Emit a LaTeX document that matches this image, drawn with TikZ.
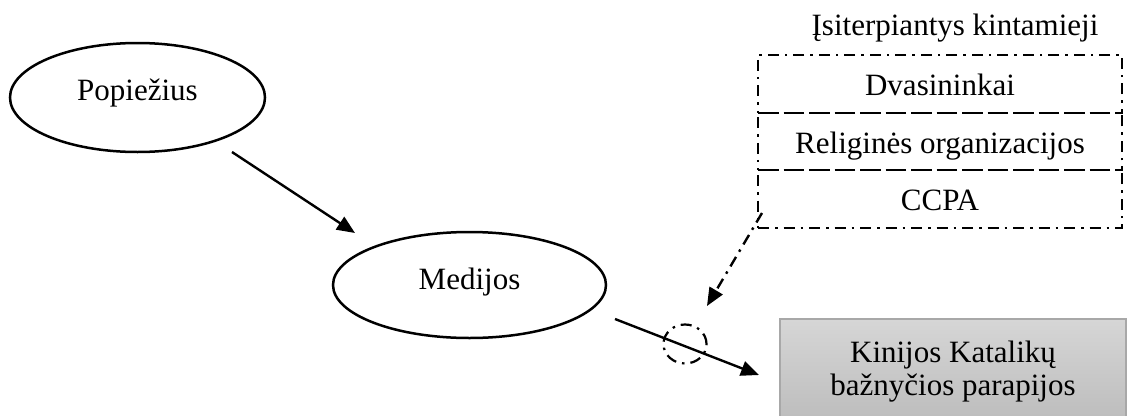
\documentclass[tikz,border=0pt]{standalone}
\usepackage{fontspec}
\setmainfont{Liberation Serif}
\usetikzlibrary{shapes.geometric,arrows.meta}
\begin{document}
\begin{tikzpicture}[x=1pt,y=-1pt,
  every node/.style={font=\fontsize{31}{33}\selectfont},
  dashdotline/.style={dash pattern=on 11pt off 6pt on 2.5pt off 6pt},
  oval/.style={ellipse,draw,line width=2.5pt,inner sep=0pt,text height=22pt},
  rowbox/.style={rectangle,draw,line width=2.2pt,dashdotline,minimum width=364pt,minimum height=57.67pt,inner sep=0pt,text height=23pt,text depth=0pt},
  arr/.style={line width=2.4pt,-{Triangle[length=18pt,width=15pt]}},
]
\useasboundingbox (0,0) rectangle (1127,415);

\node[oval,minimum width=255pt,minimum height=109pt,text depth=17pt] (pope) at (137.5,97.5) {Popiežius};
\node[oval,minimum width=273pt,minimum height=106pt,text depth=14pt] (media) at (469.5,285) {Medijos};

\node[anchor=base] (title) at (955,35) {Įsiterpiantys kintamieji};
\node[rowbox] (r1) at (940,83.8) {Dvasininkai};
\node[rowbox] (r2) at (940,141.5) {Religinės organizacijos};
\node[rowbox] (r3) at (940,199.2) {CCPA};

\node[draw={rgb,255:red,168;green,168;blue,168},line width=1.5pt,
  top color={rgb,255:red,214;green,214;blue,214},bottom color={rgb,255:red,188;green,188;blue,188},
  minimum width=346pt,minimum height=104.6pt,align=center,inner sep=0pt] (church) at (953,371.3)
  {Kinijos Katalikų\\bažnyčios parapijos};

\node[ellipse,draw,line width=2.2pt,dashdotline,minimum width=43pt,minimum height=39pt,inner sep=0pt] (mark) at (685,344) {};

\coordinate (a1) at (232,152);
\coordinate (a2) at (355,233);
\coordinate (b1) at (615,319);
\coordinate (b2) at (759,375);
\coordinate (c1) at (762,213);
\coordinate (c2) at (707,306);

\draw[arr] (a1) -- (a2);
\draw[arr] (b1) -- (b2);
\draw[arr,dashdotline] (c1) -- (c2);
\end{tikzpicture}
\end{document}
